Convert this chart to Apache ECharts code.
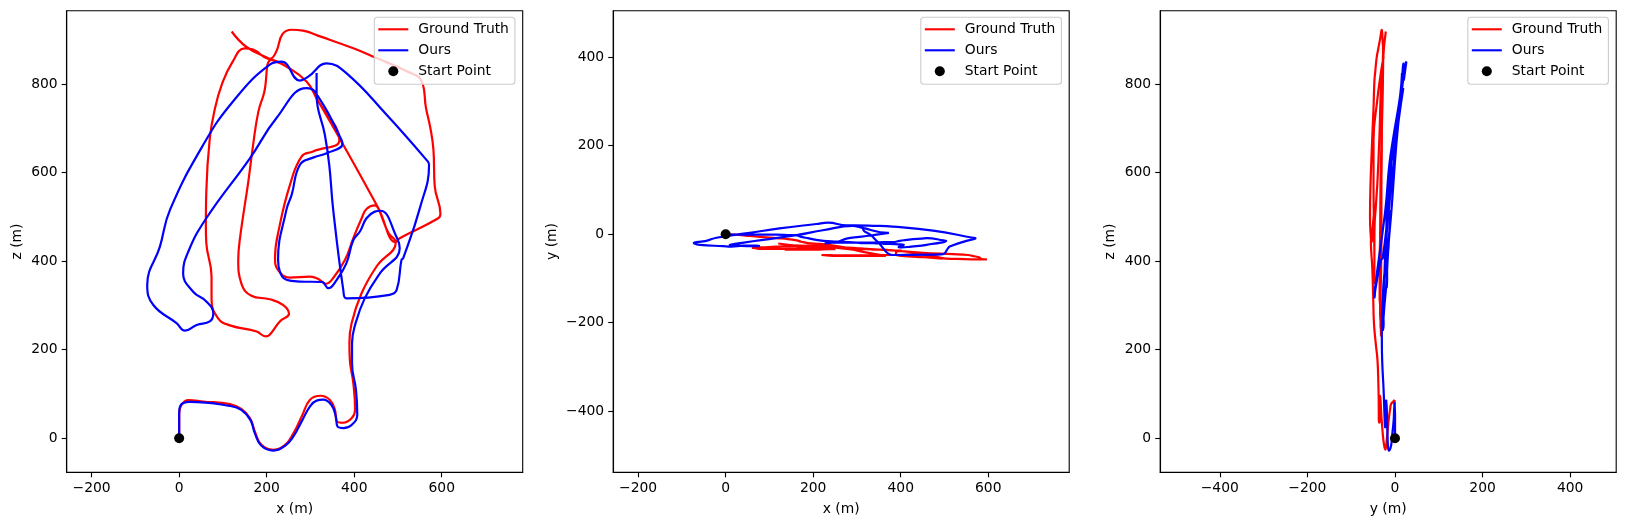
<!DOCTYPE html>
<html>
<head>
<meta charset="utf-8">
<style>html,body{margin:0;padding:0;background:#fff}#c{width:1625px;height:525px}</style>
<script src="https://cdn.jsdelivr.net/npm/echarts@6/dist/echarts.min.js"></script>
</head>
<body>
<div id="c"></div>
<script>
// Ground truth trajectory, read from the three projections (metres)
const gtX = [0,0,5,21,55,116,142,162,173,188,215,242,261,280,299,323,344,356,360,375,394,402,398,390,389,394,417,451,495,478,455,447,428,417,398,379,352,335,318,299,253,226,219,230,253,280,306,366,314,291,245,211,194,181,169,158,139,135,142,165,207,238,251,230,207,198,177,116,89,74,74,62,61,62,70,82,97,120,150,169,207,222,236,257,283,322,398,451,520,554,564,574,581,584,597,592,504,495,455,371,314,291,245,207,154,120];
const gtY = [0,0,-1,-1,-4,-9,-11,-14,-17,-20,-22,-25,-28,-31,-33,-34,-35,-35,-35,-36,-37,-37,-38,-40,-44,-48,-50,-52,-55,-52,-47,-45,-45,-46,-47,-47,-47,-48,-48,-48,-48,-47,-47,-48,-49,-49,-49,-49,-40,-35,-30,-27,-28,-29,-31,-33,-34,-35,-35,-35,-35,-34,-34,-33,-32,-32,-32,-33,-33,-33,-32,-31,-31,-31,-30,-30,-29,-28,-27,-27,-26,-27,-29,-30,-31,-33,-38,-42,-45,-47,-49,-51,-53,-56,-57,-57,-55,-54,-44,-36,-33,-31,-29,-27,-25,-21];
const gtZ = [0,56,75,86,83,77,66,45,15,-15,-26,-15,11,49,87,96,87,64,38,35,45,64,124,177,215,260,328,388,443,464,519,526,518,497,452,403,362,349,360,365,363,380,407,482,572,637,648,674,768,806,840,855,780,738,663,580,452,403,350,322,314,301,281,264,234,230,241,255,271,313,365,441,478,557,678,746,798,847,881,878,857,874,913,923,921,908,881,859,829,807,746,701,652,569,507,497,452,443,520,670,768,806,840,857,884,919];
// Our estimated trajectory (metres)
const oursX = [0,0,2,24,116,142,163,173,188,215,242,261,280,299,314,329,348,358,362,375,394,407,404,395,395,402,424,459,504,498,460,447,428,413,398,382,360,341,326,276,245,230,226,245,257,276,306,337,373,371,310,291,222,162,62,21,9,32,62,78,70,40,13,-6,-59,-73,-44,-21,55,123,207,234,276,295,337,382,474,565,571,550,512,508,497,481,382,375,352,343,333,314,314];
const oursY = [0,0,-1,-1,-1,-2,-3,-6,-9,-14,-16,-17,-18,-19,-20,-20,-21,-21,-22,-22,-23,-24,-26,-29,-30,-30,-28,-24,-15,-14,-9,-10,-11,-13,-15,-18,-18,-19,-19,-19,-19,-20,-20,-19,-17,-10,-6,-2,3,3,15,19,9,-2,-16,-22,-24,-26,-27,-27,-26,-26,-28,-27,-24,-20,-15,-8,3,13,23,26,20,20,19,17,8,-8,-9,-15,-28,-32,-45,-46,-47,-46,-22,-13,-3,12,16];
const oursZ = [0,56,72,82,73,64,41,11,-17,-28,-17,4,38,72,85,87,75,49,26,23,30,53,109,169,215,256,316,373,429,452,514,512,497,467,448,395,358,339,353,354,358,377,403,516,550,618,634,644,664,674,783,791,723,633,497,422,373,331,309,282,264,256,243,260,301,346,433,516,663,761,844,851,808,817,847,825,731,629,618,520,407,403,335,324,316,335,516,617,685,776,825];
const startPoint = [0,0,0];

// Tick labels
const xTicks = [-200,0,200,400,600];
const yTicksPlan = [0,200,400,600,800];
const yTicksHeight = [-400,-200,0,200,400];
const lateralTicks = [-400,-200,0,200,400];
const seriesNames = ['Ground Truth','Ours','Start Point'];

const FONT = '"DejaVu Sans"', FS = 13.89;
const panels = [
  {left:66.7, xMin:-257, xMax:785, yMin:-77, yMax:966, xt:xTicks, yt:yTicksPlan, xn:'x (m)', yn:'z (m)', yg:42.5, h:gtX, v:gtZ, oh:oursX, ov:oursZ, sh:startPoint[0], sv:startPoint[2]},
  {left:613.2, xMin:-257, xMax:785, yMin:-538, yMax:505, xt:xTicks, yt:yTicksHeight, xn:'x (m)', yn:'y (m)', yg:54, h:gtX, v:gtY, oh:oursX, ov:oursY, sh:startPoint[0], sv:startPoint[1]},
  {left:1160.2, xMin:-536, xMax:505, yMin:-77, yMax:966, xt:lateralTicks, yt:yTicksPlan, xn:'y (m)', yn:'z (m)', yg:42.5, h:gtY, v:gtZ, oh:oursY, ov:oursZ, sh:startPoint[1], sv:startPoint[2]}
];
const fmt = v => v < 0 ? '\u2212' + (-v) : String(v);
const zip = (a,b) => a.map((v,i) => [v,b[i]]);
const axisCommon = (name, ticks, min, max, gap, pad) => ({
  type:'value', min, max, name, nameLocation:'middle', nameGap:gap, nameMoveOverlap:false,
  nameTextStyle:{color:'#000',fontFamily:FONT,fontSize:FS},
  axisLine:{show:true,onZero:false,lineStyle:{color:'#000',width:1.1}},
  axisTick:{show:true,length:5,customValues:ticks,lineStyle:{color:'#000',width:1.1}},
  axisLabel:{show:true,color:'#000',fontFamily:FONT,fontSize:FS,margin:9,customValues:ticks,formatter:fmt,padding:pad},
  splitLine:{show:false}
});
const legendData = [
  {name:seriesNames[0],icon:'path://M0,0H30V2.1H0Z'},
  {name:seriesNames[1],icon:'path://M0,0H30V2.1H0Z'},
  {name:seriesNames[2],icon:'circle'}
];
const grid=[],xAxis=[],yAxis=[],series=[],legend=[];
panels.forEach((p,i)=>{
  grid.push({left:p.left,top:10.7,width:456,height:461.6,show:true,borderColor:'#000',borderWidth:1.1,backgroundColor:'#fff'});
  xAxis.push(Object.assign(axisCommon(p.xn,p.xt,p.xMin,p.xMax,30,[0,0,0,0]),{gridIndex:i}));
  yAxis.push(Object.assign(axisCommon(p.yn,p.yt,p.yMin,p.yMax,p.yg,[4,0,0,0]),{gridIndex:i}));
  series.push({type:'line',name:seriesNames[0],xAxisIndex:i,yAxisIndex:i,data:zip(p.h,p.v),symbol:'none',smooth:0.45,lineStyle:{color:'#ff0000',width:2.2},itemStyle:{color:'#ff0000'},z:2});
  series.push({type:'line',name:seriesNames[1],xAxisIndex:i,yAxisIndex:i,data:zip(p.oh,p.ov),symbol:'none',smooth:0.45,lineStyle:{color:'#0000ff',width:2.2},itemStyle:{color:'#0000ff'},z:3});
  series.push({type:'line',name:seriesNames[2],xAxisIndex:i,yAxisIndex:i,data:[[p.sh,p.sv]],symbol:'circle',symbolSize:10,showSymbol:true,lineStyle:{width:0},itemStyle:{color:'#000'},z:4});
  legend.push({data:legendData,left:p.left+307.6,top:17.3,orient:'vertical',selectedMode:false,
    itemWidth:30,itemHeight:10,itemGap:7,padding:[5,6,6,4],borderColor:'#ccc',borderWidth:1.1,borderRadius:3,
    backgroundColor:'rgba(255,255,255,0.8)',z:10,
    textStyle:{color:'#000',fontFamily:FONT,fontSize:FS,lineHeight:14,padding:[0,0,0,5]},align:'left'});
});
const chart = echarts.init(document.getElementById('c'),null,{renderer:'canvas'});
chart.setOption({animation:false,backgroundColor:'#fff',grid,xAxis,yAxis,series,legend});
</script>
</body>
</html>
